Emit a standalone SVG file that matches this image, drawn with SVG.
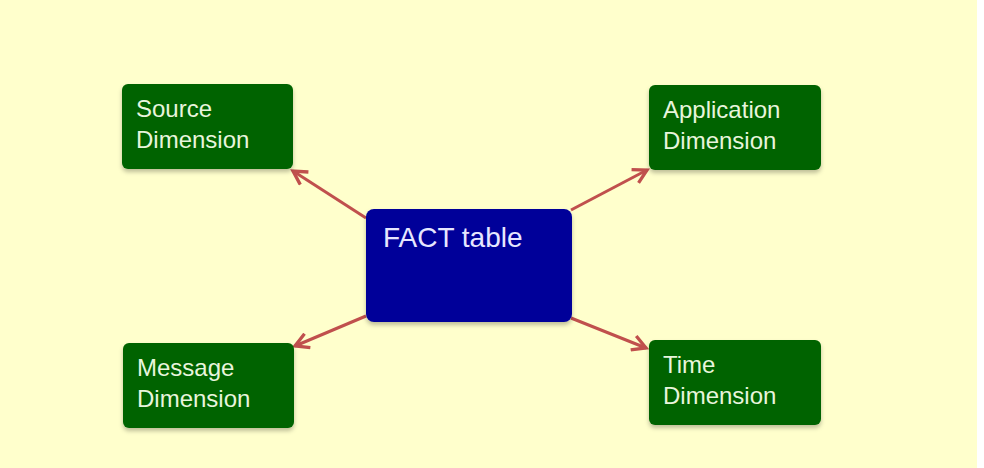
<svg xmlns="http://www.w3.org/2000/svg" width="984" height="468" viewBox="0 0 984 468">
<style>
.dim rect{fill:#006400;}
.dim text{fill:#E8F5DC;font-family:"Liberation Sans",Arial,sans-serif;font-size:24px;}
.fact rect{fill:#000099;}
.fact text{fill:#E6E6FF;font-family:"Liberation Sans",Arial,sans-serif;font-size:28px;}
.conn line{stroke:#C0504D;stroke-width:3;marker-end:url(#ah);}
</style>
<defs>
<marker id="ah" viewBox="0 0 12 12" refX="10" refY="6" markerWidth="6" markerHeight="6" orient="auto" markerUnits="strokeWidth">
<path d="M1,1 L10,6 L1,11" fill="none" stroke="#C0504D" stroke-width="2.2"/>
</marker>
<filter id="sh" x="-10%" y="-10%" width="120%" height="130%">
<feDropShadow dx="0" dy="3" stdDeviation="2" flood-color="#000" flood-opacity="0.25"/>
</filter>
</defs>
<rect x="0" y="0" width="984" height="468" fill="#FFFFFF"/>
<rect x="0" y="0" width="977" height="468" fill="#FFFFCC"/>
<g class="conn">
<line x1="366" y1="218" x2="293" y2="171"/>
<line x1="571" y1="210" x2="647" y2="170"/>
<line x1="366" y1="316" x2="295" y2="346"/>
<line x1="571" y1="318" x2="646" y2="348"/>
</g>
<g id="source" class="dim">
<rect x="122" y="84" width="171" height="85" rx="6" filter="url(#sh)"/>
<text x="136" y="117">Source</text>
<text x="136" y="148">Dimension</text>
</g>
<g id="application" class="dim">
<rect x="649" y="85" width="172" height="85" rx="6" filter="url(#sh)"/>
<text x="663" y="118">Application</text>
<text x="663" y="149">Dimension</text>
</g>
<g id="message" class="dim">
<rect x="123" y="343" width="171" height="85" rx="6" filter="url(#sh)"/>
<text x="137" y="376">Message</text>
<text x="137" y="407">Dimension</text>
</g>
<g id="time" class="dim">
<rect x="649" y="340" width="172" height="85" rx="6" filter="url(#sh)"/>
<text x="663" y="373">Time</text>
<text x="663" y="404">Dimension</text>
</g>
<g id="fact" class="fact">
<rect x="366" y="209" width="206" height="113" rx="8" filter="url(#sh)"/>
<text x="383" y="247">FACT table</text>
</g>
</svg>
